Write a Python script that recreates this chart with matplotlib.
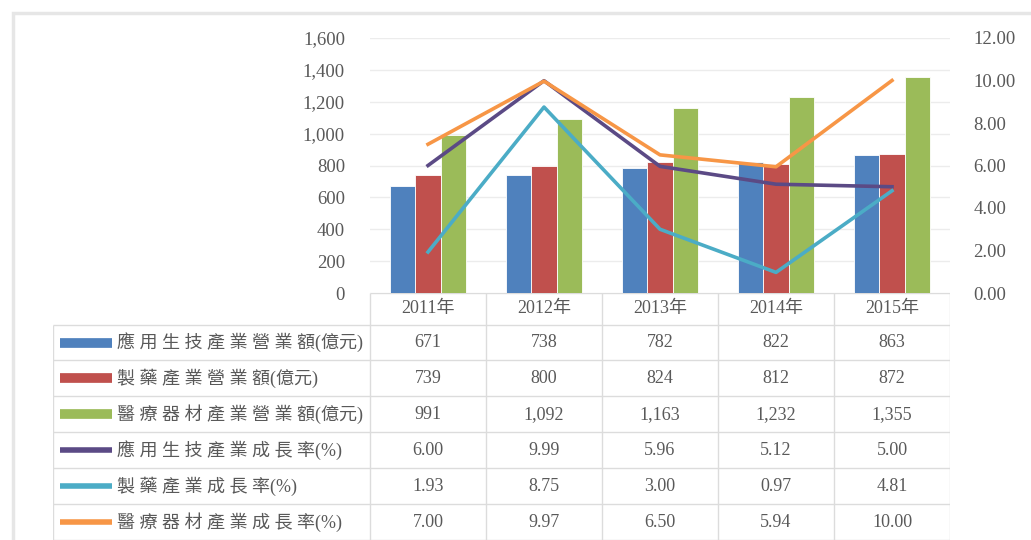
import matplotlib
matplotlib.use("Agg")
import matplotlib.pyplot as plt
from matplotlib.patches import Rectangle
from matplotlib.ticker import FuncFormatter

plt.rcParams['font.family'] = ['Liberation Serif', 'Noto Sans CJK TC']

years = ['2011年', '2012年', '2013年', '2014年', '2015年']

# revenue (億元)
rev_bio = [671, 738, 782, 822, 863]
rev_pharma = [739, 800, 824, 812, 872]
rev_device = [991, 1092, 1163, 1232, 1355]

# growth rate (%)
gr_bio = [6.00, 9.99, 5.96, 5.12, 5.00]
gr_pharma = [1.93, 8.75, 3.00, 0.97, 4.81]
gr_device = [7.00, 9.97, 6.50, 5.94, 10.00]

labels = ['應用生技產業營業額(億元)', '製藥產業營業額(億元)', '醫療器材產業營業額(億元)',
          '應用生技產業成長率(%)', '製藥產業成長率(%)', '醫療器材產業成長率(%)']

bar_colors = ['#4F81BD', '#C0504D', '#9BBB59']
line_colors = ['#5B4A85', '#4BACC6', '#F79646']
txt = '#595959'

W, H = 1031, 540
fig = plt.figure(figsize=(W / 100, H / 100), dpi=100)

# light frame round the chart
fig.patches.append(Rectangle((13 / W, -0.1), 1.2, 1 - 13 / H + 0.1, transform=fig.transFigure,
                             fill=False, edgecolor='#e6e6e6', lw=2.5, zorder=0))

ax = fig.add_axes([370 / W, 1 - 293 / H, 580 / W, 255 / H])
ax2 = ax.twinx()

x = range(len(years))
bw = 0.22
for k, vals in enumerate([rev_bio, rev_pharma, rev_device]):
    ax.bar([i + (k - 1) * bw for i in x], vals, width=bw, color=bar_colors[k],
           edgecolor='white', linewidth=0.6, zorder=2)

for k, vals in enumerate([gr_bio, gr_pharma, gr_device]):
    ax2.plot(list(x), vals, color=line_colors[k], lw=2.6, solid_joinstyle='round')

ax.set_xlim(-0.5, 4.5)
ax.set_ylim(0, 1600)
ax.set_yticks(range(0, 1601, 200))
ax.yaxis.set_major_formatter(FuncFormatter(lambda v, p: f'{int(v):,}'))
ax2.set_ylim(0, 12)
ax2.set_yticks(range(0, 13, 2))
ax2.yaxis.set_major_formatter(FuncFormatter(lambda v, p: f'{v:.2f}'))
ax.grid(axis='y', color='#ececec', lw=1.0, zorder=0)
ax.set_xticks([])
for a in (ax, ax2):
    for s in a.spines.values():
        s.set_visible(False)
ax.tick_params(axis='y', length=0, pad=18, labelsize=13.5, labelcolor=txt)
ax2.tick_params(axis='y', length=0, pad=17, labelsize=13.5, labelcolor=txt)

# data table underneath the plot
left_px = 53
tx0 = -0.5 - (370 - left_px) / 116
tab = fig.add_axes([left_px / W, 0, (950 - left_px) / W, 1 - 293 / H])
tab.set_xlim(tx0, 4.5)
hdr = 0.88
nrows = len(labels)
tab.set_ylim(hdr + nrows, 0)
tab.axis('off')

gc = '#dcdcdc'
tab.hlines(0, -0.5, 4.5, color=gc, lw=1)
for r in range(nrows + 1):
    tab.hlines(hdr + r, tx0, 4.5, color=gc, lw=1)
for c in range(6):
    tab.vlines(c - 0.5, 0, hdr + nrows, color=gc, lw=1)
tab.vlines(tx0, hdr, hdr + nrows, color=gc, lw=1)

for i, y in enumerate(years):
    tab.text(i, hdr / 2, y, ha='center', va='center', fontsize=13, color=txt)

rows = [rev_bio, rev_pharma, rev_device, gr_bio, gr_pharma, gr_device]
colors = bar_colors + line_colors
for r, vals in enumerate(rows):
    yc = hdr + r + 0.5
    key_w = 7 if r < 3 else 4
    tab.plot([tx0 + 7 / 116, tx0 + 59 / 116], [yc, yc], color=colors[r], lw=key_w,
             solid_capstyle='butt')
    name, unit = labels[r].split('(')
    tab.text(tx0 + 64 / 116, yc, ' '.join(name) + '(' + unit, ha='left', va='center',
             fontsize=13, color=txt)
    for i, v in enumerate(vals):
        s = f'{v:,}' if r < 3 else f'{v:.2f}'
        tab.text(i, yc, s, ha='center', va='center', fontsize=13, color=txt)

fig.savefig('out.png', dpi=100, facecolor='white')
